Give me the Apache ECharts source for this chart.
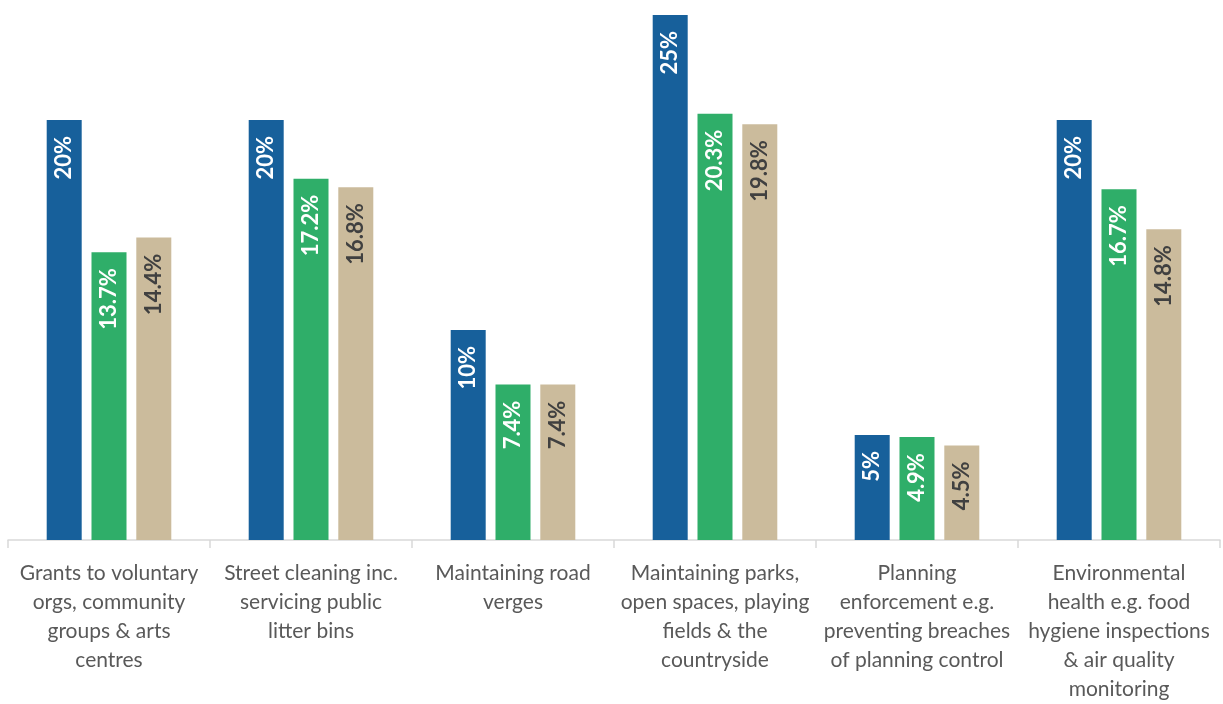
<!DOCTYPE html>
<html>
<head>
<meta charset="utf-8">
<script src="https://cdn.jsdelivr.net/npm/echarts@6/dist/echarts.min.js"></script>
<style>
  html, body { margin: 0; padding: 0; background: #ffffff; }
  #chart { width: 1223px; height: 704px; }
</style>
</head>
<body>
<div id="chart"></div>
<script>
// Service categories (line breaks as shown under the axis)
const categories = [
  'Grants to voluntary\norgs, community\ngroups & arts\ncentres',
  'Street cleaning inc.\nservicing public\nlitter bins',
  'Maintaining road\nverges',
  'Maintaining parks,\nopen spaces, playing\nfields & the\ncountryside',
  'Planning\nenforcement e.g.\npreventing breaches\nof planning control',
  'Environmental\nhealth e.g. food\nhygiene inspections\n& air quality\nmonitoring'
];

// Percentages per series
const seriesBlue  = [20, 20, 10, 25, 5, 20];
const seriesGreen = [13.7, 17.2, 7.4, 20.3, 4.9, 16.7];
const seriesBeige = [14.4, 16.8, 7.4, 19.8, 4.5, 14.8];

const FONT = 'Lato, "Open Sans", sans-serif';

function makeSeries(name, data, color, labelColor) {
  return {
    name: name,
    type: 'bar',
    data: data,
    barWidth: 35,
    barGap: '28%',
    itemStyle: { color: color },
    label: {
      show: true,
      position: 'insideTop',
      distance: 16,
      rotate: 90,
      align: 'right',
      verticalAlign: 'middle',
      color: labelColor,
      fontFamily: FONT,
      fontWeight: 'bold',
      fontSize: 22,
      formatter: p => p.value + '%'
    }
  };
}

const chart = echarts.init(document.getElementById('chart'));
chart.setOption({
  animation: false,
  grid: { left: 8, right: 3, top: 15, bottom: 158, containLabel: false },
  xAxis: {
    type: 'category',
    data: categories,
    axisLine: { show: true, lineStyle: { color: '#d9d9d9', width: 1.5 } },
    axisTick: { show: true, length: 8, lineStyle: { color: '#d9d9d9', width: 1.5 } },
    axisLabel: {
      interval: 0,
      margin: 19,
      color: '#595959',
      fontFamily: FONT,
      fontSize: 21,
      lineHeight: 29,
      align: 'center'
    }
  },
  yAxis: {
    type: 'value',
    min: 0,
    max: 25,
    show: false,
    splitLine: { show: false }
  },
  series: [
    makeSeries('A', seriesBlue, '#17609b', '#ffffff'),
    makeSeries('B', seriesGreen, '#2fae69', '#ffffff'),
    makeSeries('C', seriesBeige, '#cbbb9c', '#404040')
  ]
});
</script>
</body>
</html>
